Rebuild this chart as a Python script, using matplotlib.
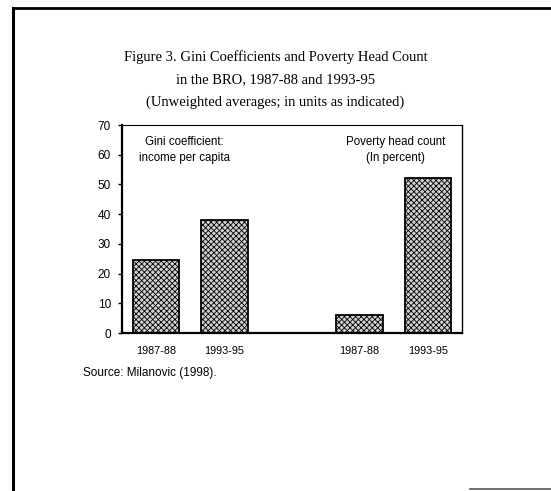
import matplotlib.pyplot as plt
from matplotlib.lines import Line2D

periods = ["1987-88", "1993-95", "1987-88", "1993-95"]
gini = [24.5, 38.0]
poverty = [6.0, 52.0]
values = gini + poverty
positions = [0, 1, 2.96, 3.96]

plt.rcParams["hatch.linewidth"] = 0.6

fig = plt.figure(figsize=(5.51, 4.91), dpi=100)
ax = fig.add_axes([122 / 551, 1 - 333 / 491, 340 / 551, 208 / 491])

ax.bar(positions, values, width=0.67, color="#d0d0d0", edgecolor="black",
       linewidth=1.3, hatch="xxxxxx")

ax.set_ylim(0, 70)
ax.set_xlim(-0.49, 4.45)
ax.set_yticks(range(0, 71, 10))
ax.set_xticks(positions)
ax.set_xticklabels(periods)
ax.tick_params(axis="x", length=0, pad=9, labelsize=7.8)
ax.tick_params(axis="y", length=3, width=1, labelsize=8.5, pad=5)
for lab in ax.get_xticklabels() + ax.get_yticklabels():
    lab.set_family("Liberation Sans")

ax.spines["left"].set_linewidth(1.6)
ax.spines["bottom"].set_linewidth(1.6)
ax.spines["top"].set_linewidth(0.8)
ax.spines["right"].set_linewidth(1.0)

ax.text(0.42, 66.3, "Gini coefficient:\nincome per capita", ha="center", va="top",
        fontsize=8.3, family="Liberation Sans", linespacing=1.5)
ax.text(3.49, 66.3, "Poverty head count\n(In percent)", ha="center", va="top",
        fontsize=8.3, family="Liberation Sans", linespacing=1.5)

fig.text(0.5, 1 - 57 / 491, "Figure 3. Gini Coefficients and Poverty Head Count",
         ha="center", va="center", fontsize=10.5, family="Liberation Serif")
fig.text(0.5, 1 - 80 / 491, "in the BRO, 1987-88 and 1993-95",
         ha="center", va="center", fontsize=10.5, family="Liberation Serif")
fig.text(0.5, 1 - 102 / 491, "(Unweighted averages; in units as indicated)",
         ha="center", va="center", fontsize=10.5, family="Liberation Serif")

fig.text(83 / 551, 1 - 373 / 491, "Source: Milanovic (1998).", ha="left",
         va="center", fontsize=8.5, family="Liberation Sans")

# outer frame of the scanned page
fig.add_artist(Line2D([13 / 551, 13 / 551], [0, 1 - 8 / 491], color="black", lw=2.2))
fig.add_artist(Line2D([13 / 551, 1], [1 - 8 / 491, 1 - 8 / 491], color="black", lw=2.0))
fig.add_artist(Line2D([470 / 551, 1], [2 / 491, 2 / 491], color="#555555", lw=1.2))

fig.savefig("out.png", dpi=100)
